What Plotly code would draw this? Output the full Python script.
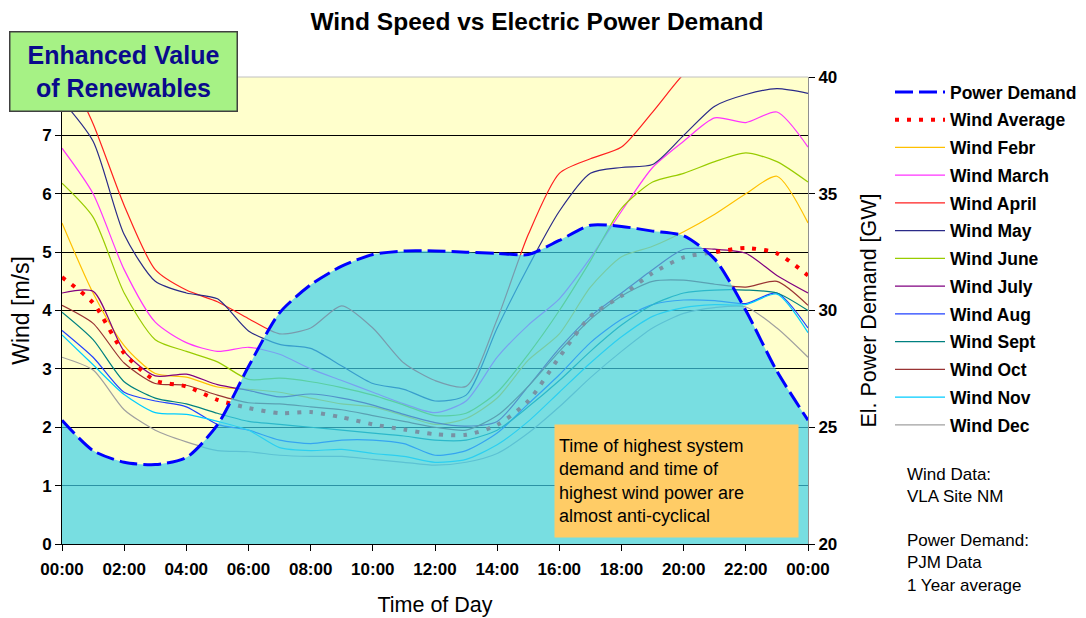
import plotly.graph_objects as go

# hours of the day, 0..24
hours = list(range(25))
tick_vals = list(range(0, 25, 2))
tick_text = ["00:00", "02:00", "04:00", "06:00", "08:00", "10:00", "12:00",
             "14:00", "16:00", "18:00", "20:00", "22:00", "00:00"]

# PJM power demand, GW (1 year average)
power_demand = [25.3, 24.0, 23.5, 23.4, 23.7, 25.1, 27.6, 29.9, 31.1, 31.9, 32.4, 32.55, 32.55,
                32.5, 32.45, 32.4, 33.0, 33.65, 33.6, 33.4, 33.2, 32.2, 30.0, 27.4, 25.3]

# wind speed at VLA site, m/s
wind_avg = [4.57, 4.13, 3.27, 2.8, 2.7, 2.47, 2.33, 2.24, 2.26, 2.17, 2.05, 1.96, 1.88,
            1.87, 2.04, 2.45, 3.2, 3.9, 4.25, 4.64, 4.91, 5.0, 5.07, 4.98, 4.6]
wind_febr = [5.5, 4.3, 3.4, 2.92, 2.86, 2.69, 2.65, 2.6, 2.5, 2.4, 2.35, 2.2, 2.05,
             2.15, 2.5, 3.15, 3.6, 4.4, 4.92, 5.1, 5.35, 5.65, 6.0, 6.3, 5.5]
wind_march = [6.78, 6.0, 4.7, 3.8, 3.45, 3.3, 3.37, 3.25, 3.0, 2.8, 2.6, 2.4, 2.25,
              2.45, 3.2, 3.75, 4.2, 4.9, 5.7, 6.45, 6.9, 7.3, 7.22, 7.4, 6.8]
wind_april = [8.3, 7.2, 5.8, 4.7, 4.35, 4.15, 3.86, 3.6, 3.7, 4.08, 3.7, 3.1, 2.8,
              2.7, 3.85, 5.3, 6.35, 6.6, 6.8, 7.4, 8.05, 8.5, 8.7, 8.7, 8.6]
wind_may = [7.6, 6.9, 5.3, 4.5, 4.3, 4.2, 3.65, 3.42, 3.35, 3.05, 2.75, 2.65, 2.45,
            2.55, 3.7, 4.75, 5.7, 6.35, 6.45, 6.5, 7.0, 7.5, 7.7, 7.8, 7.72]
wind_june = [6.18, 5.6, 4.3, 3.5, 3.3, 3.12, 2.82, 2.84, 2.78, 2.68, 2.55, 2.38, 2.2,
             2.24, 2.6, 3.25, 4.0, 4.85, 5.75, 6.2, 6.35, 6.55, 6.7, 6.55, 6.2]
wind_july = [4.3, 4.33, 3.3, 2.88, 2.91, 2.73, 2.63, 2.52, 2.57, 2.5, 2.38, 2.22, 2.08,
             2.02, 2.1, 2.7, 3.35, 3.9, 4.3, 4.7, 5.05, 5.05, 4.98, 4.6, 4.3]
wind_aug = [3.66, 3.2, 2.6, 2.45, 2.35, 2.05, 1.95, 1.78, 1.72, 1.78, 1.78, 1.72, 1.52,
            1.6, 1.9, 2.4, 2.9, 3.45, 3.85, 4.1, 4.18, 4.17, 4.12, 4.3, 3.7]
wind_sept = [3.97, 3.5, 2.78, 2.5, 2.4, 2.24, 2.1, 2.05, 2.0, 1.95, 1.9, 1.85, 1.78,
             1.78, 1.95, 2.35, 2.8, 3.3, 3.75, 4.1, 4.3, 4.35, 4.35, 4.3, 4.0]
wind_oct = [4.09, 3.78, 3.1, 2.75, 2.72, 2.55, 2.42, 2.4, 2.35, 2.3, 2.2, 2.1, 2.0,
            1.95, 2.2, 2.7, 3.3, 3.85, 4.25, 4.5, 4.52, 4.45, 4.4, 4.5, 4.09]
wind_nov = [3.58, 3.07, 2.56, 2.25, 2.22, 2.1, 1.95, 1.65, 1.6, 1.62, 1.55, 1.5, 1.4,
            1.45, 1.7, 2.1, 2.6, 3.1, 3.55, 3.9, 4.05, 4.1, 4.1, 4.28, 3.62]
wind_dec = [3.2, 2.98, 2.3, 1.95, 1.75, 1.6, 1.58, 1.52, 1.5, 1.5, 1.45, 1.4, 1.35,
            1.4, 1.55, 1.9, 2.35, 2.85, 3.3, 3.7, 3.95, 4.05, 4.06, 3.7, 3.2]

months = ["Febr", "March", "April", "May", "June", "July", "Aug", "Sept", "Oct", "Nov", "Dec"]
month_values = [wind_febr, wind_march, wind_april, wind_may, wind_june, wind_july,
                wind_aug, wind_sept, wind_oct, wind_nov, wind_dec]
month_colors = ["#FFC000", "#FF33FF", "#FF2020", "#2A2A88", "#99CC00", "#800080",
                "#2040FF", "#008080", "#993333", "#00CCFF", "#A0A0A0"]

FONT = "Liberation Sans, Arial, sans-serif"

# the page body adds an 8px offset, so the figure is 8px smaller than the window
W, H = 1078, 610

fig = go.Figure()

# monthly wind curves
for rank, (name, vals, col) in enumerate(zip(months, month_values, month_colors)):
    fig.add_trace(go.Scatter(
        x=hours, y=vals, mode="lines", name="Wind " + name,
        line=dict(color=col, width=1.2, shape="spline", smoothing=0.7),
        legendgroup=name, legendrank=10 + rank, yaxis="y",
    ))

fig.add_trace(go.Scatter(
    x=hours, y=wind_avg, mode="lines", name="Wind Average",
    line=dict(color="#FF0000", width=4, dash="4px,8px", shape="spline", smoothing=0.7),
    legendgroup="avg", legendrank=2, yaxis="y",
))

# power demand area (on the overlaid axis, so it sits above the wind lines)
fig.add_trace(go.Scatter(
    x=hours, y=power_demand, mode="lines", fill="tozeroy",
    fillcolor="rgba(62,208,233,0.7)",
    line=dict(width=0, shape="spline", smoothing=0.7),
    showlegend=False, hoverinfo="skip", yaxis="y2",
))
fig.add_trace(go.Scatter(
    x=hours, y=power_demand, mode="lines", name="Power Demand",
    line=dict(color="#0000FF", width=3, dash="18px,6px", shape="spline", smoothing=0.7),
    legendgroup="pd", legendrank=1, yaxis="y2",
))

fig.update_layout(
    width=W, height=H,
    margin=dict(l=54, r=278, t=69, b=74, autoexpand=False),
    paper_bgcolor="white",
    plot_bgcolor="#FFFFCC",
    font=dict(family=FONT, color="black"),
    title=dict(text="Wind Speed vs Electric Power Demand", x=0.4907, xanchor="center",
               xref="container", y=1 - 13 / H, yanchor="middle", yref="container",
               font=dict(size=24.5, weight="bold", color="black")),
    xaxis=dict(range=[0, 24], tickvals=tick_vals, ticktext=tick_text, automargin=False,
               showgrid=False, zeroline=False, showline=True, linecolor="black", linewidth=1,
               ticks="outside", ticklen=6, tickcolor="black", ticklabelstandoff=4,
               tickfont=dict(size=17, weight="bold"),
               title=dict(text="Time of Day", font=dict(size=21.5), standoff=18)),
    yaxis=dict(range=[0, 8], tickvals=list(range(0, 8)), showgrid=True, gridcolor="black",
               gridwidth=1, zeroline=False, showline=True, linecolor="black", linewidth=1,
               automargin=False, ticks="outside", ticklen=6, tickcolor="black",
               tickfont=dict(size=17, weight="bold"),
               title=dict(text="Wind [m/s]", font=dict(size=23), standoff=6)),
    yaxis2=dict(range=[20, 40], tickvals=[20, 25, 30, 35, 40], overlaying="y", side="right",
                showgrid=False, zeroline=False, showline=True, linecolor="#909090", linewidth=1,
                automargin=False, ticks="outside", ticklen=6, tickcolor="black",
                tickfont=dict(size=17, weight="bold"),
                title=dict(text="El. Power Demand [GW]", font=dict(size=21.5), standoff=24)),
    legend=dict(x=(890 - 8) / W, xref="container", y=1 - (74 - 8) / H, yref="container",
                xanchor="left", yanchor="top", bgcolor="rgba(0,0,0,0)", maxheight=1,
                font=dict(size=17.5, weight="bold"), itemwidth=50, tracegroupgap=2,
                traceorder="grouped"),
    shapes=[dict(type="line", xref="paper", yref="paper", x0=0, x1=1, y0=1, y1=1,
                 line=dict(color="#C0C0C0", width=1))],
)

fig.add_annotation(
    text="Enhanced Value<br>of Renewables", xref="paper", yref="paper",
    x=0.0818, y=1.0118, xanchor="center", yanchor="middle", showarrow=False,
    font=dict(size=25, weight="bold", color="#0A0A8C"), align="center",
    bgcolor="#A6F285", bordercolor="#404040", borderwidth=1.5, borderpad=2,
    width=222, height=74,
)
fig.add_annotation(
    text="Time of highest system<br>demand and time of<br>highest wind power are<br>almost anti-cyclical",
    xref="paper", yref="paper", x=0.8237, y=0.1349, xanchor="center", yanchor="middle",
    showarrow=False, font=dict(size=18, color="black"), align="left",
    bgcolor="#FFCC66", borderpad=4, width=235, height=104,
)
fig.add_annotation(
    text="Wind Data:<br>VLA Site NM<br><br>Power Demand:<br>PJM Data<br>1 Year average",
    xref="paper", yref="paper", x=(905 - 62) / 746, y=(544 - 463) / 467,
    xanchor="left", yanchor="top", showarrow=False, align="left",
    font=dict(size=17, color="black"),
)

fig.write_html("out.html")
